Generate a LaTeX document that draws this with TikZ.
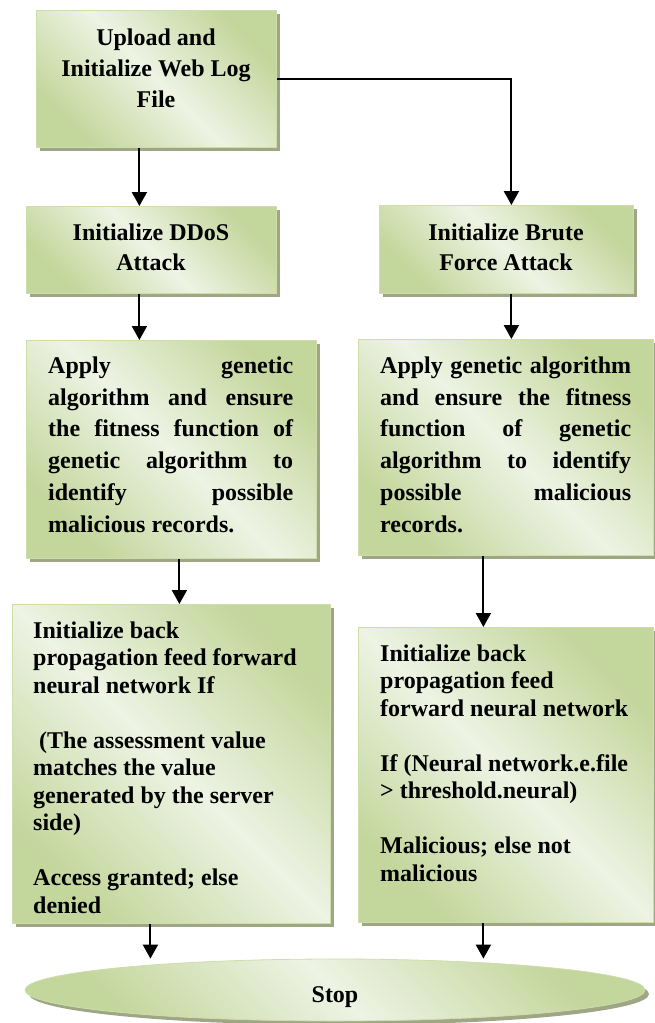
\documentclass[tikz,border=0pt]{standalone}
\usepackage{fontspec}
\setmainfont{Liberation Serif}
\usetikzlibrary{shapes.geometric,shadows,arrows.meta,calc}
\definecolor{gdark}{RGB}{195,214,155}
\definecolor{glight}{RGB}{238,243,228}
\definecolor{gline}{RGB}{205,222,170}
\definecolor{shcol}{RGB}{158,166,134}
\tikzset{
  greenfill/.style={draw=gline, line width=0.8pt, top color=gdark, bottom color=gdark,
    middle color=glight, shading angle=-45,
    drop shadow={shadow xshift=4pt, shadow yshift=-4pt, fill=shcol, opacity=1}},
  stepbox/.style={rectangle, greenfill, inner sep=0pt, anchor=north west},
  stopshape/.style={ellipse, greenfill, inner sep=0pt},
  arr/.style={line width=2pt, -{Triangle[width=15pt,length=14pt]}},
  txt/.style={inner sep=0pt}
}
\newcommand\jl[2]{\makebox[#1][s]{#2}}
\begin{document}
\begin{tikzpicture}[x=1pt,y=-1pt]
\useasboundingbox (0,0) rectangle (655,1023);
% boxes
\node[stepbox, minimum width=240pt, minimum height=137pt] (b1) at (36,10) {};
\node[stepbox, minimum width=250pt, minimum height=87pt] (b2) at (26,206) {};
\node[stepbox, minimum width=254pt, minimum height=88pt] (b3) at (379,205) {};
\node[stepbox, minimum width=290pt, minimum height=218pt] (b4) at (26,340) {};
\node[stepbox, minimum width=295pt, minimum height=216pt] (b5) at (358,339) {};
\node[stepbox, minimum width=318pt, minimum height=319pt] (b6) at (12,604) {};
\node[stepbox, minimum width=295pt, minimum height=295pt] (b7) at (358,627) {};
\node[stopshape, minimum width=620pt, minimum height=62pt] (stop) at (335,990) {};
% texts
\node[txt, anchor=north, align=center, font=\fontsize{24}{31}\selectfont\bfseries] (t1) at (156,28.5)
  {Upload and\\Initialize Web Log\\File};
\node[txt, anchor=north, align=center, font=\fontsize{24}{30}\selectfont\bfseries] (t2) at (151,223.5)
  {Initialize DDoS\\Attack};
\node[txt, anchor=north, align=center, font=\fontsize{24}{30}\selectfont\bfseries] (t3) at (506,223.5)
  {Initialize Brute\\Force Attack};
\node[txt, anchor=north west, align=left, font=\fontsize{24}{31.8}\selectfont\bfseries] (t4) at (48,356.5)
  {\jl{245pt}{Apply genetic}\\\jl{245pt}{algorithm and ensure}\\\jl{245pt}{the fitness function of}\\\jl{245pt}{genetic algorithm to}\\\jl{245pt}{identify possible}\\malicious records.};
\node[txt, anchor=north west, align=left, font=\fontsize{24}{31.8}\selectfont\bfseries] (t5) at (380,356.5)
  {\jl{251pt}{Apply genetic algorithm}\\\jl{251pt}{and ensure the fitness}\\\jl{251pt}{function of genetic}\\\jl{251pt}{algorithm to identify}\\\jl{251pt}{possible malicious}\\records.};
\node[txt, anchor=north west, align=left, font=\fontsize{24}{27.5}\selectfont\bfseries] (t6) at (33,621.5)
  {Initialize back\\propagation feed forward\\neural network If\\[27.5pt]\hspace{6pt}(The assessment value\\matches the value\\generated by the server\\side)\\[27.5pt]Access granted; else\\denied};
\node[txt, anchor=north west, align=left, font=\fontsize{24}{27.5}\selectfont\bfseries] (t7) at (380,644.5)
  {Initialize back\\propagation feed\\forward neural network\\[27.5pt]If (Neural network.e.file\\> threshold.neural)\\[27.5pt]Malicious; else not\\malicious};
\node[txt, anchor=base, font=\fontsize{24}{28}\selectfont\bfseries] (st) at (335,1002) {Stop};
% arrows
\draw[arr] ([xshift=-17pt]b1.south) -- ([xshift=-17pt]b1.south |- b2.north);
\draw[arr] (b1.east) -| ([xshift=5pt]b3.north);
\draw[arr] ([xshift=-12pt]b2.south) -- ([xshift=-12pt]b2.south |- b4.north);
\draw[arr] ([xshift=5pt]b3.south) -- ([xshift=5pt]b3.south |- b5.north);
\draw[arr] ([xshift=8pt]b4.south) -- ([xshift=8pt]b4.south |- b6.north);
\draw[arr] ([xshift=-22.5pt]b5.south) -- ([xshift=-22.5pt]b5.south |- b7.north);
\draw[arr] ([xshift=-21pt]b6.south) -- ([xshift=-21pt]b6.south |- stop.north);
\draw[arr] ([xshift=-22.5pt]b7.south) -- ([xshift=-22.5pt]b7.south |- stop.north);
\end{tikzpicture}
\end{document}
